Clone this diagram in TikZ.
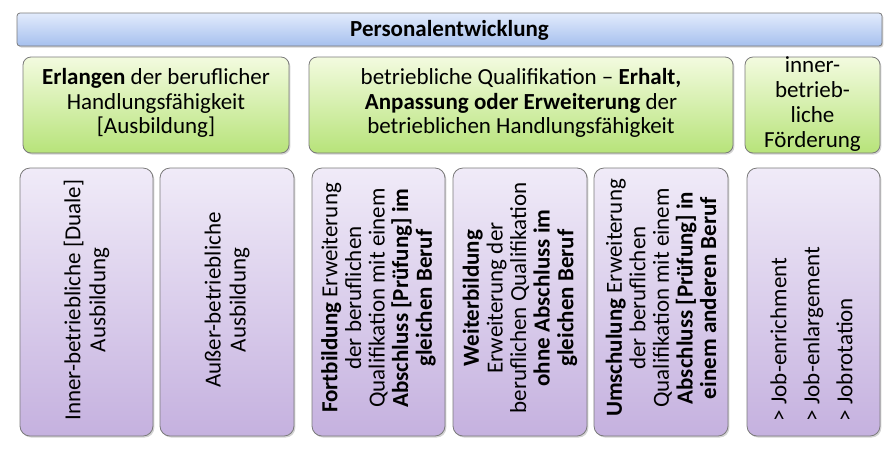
\documentclass[tikz,border=0pt]{standalone}
\usepackage{fontspec}
\setmainfont{Carlito}
\usetikzlibrary{shadows}
\definecolor{blueTop}{HTML}{E2EBFC}
\definecolor{blueBot}{HTML}{A6C0EE}
\definecolor{greenTop}{HTML}{F3FBDF}
\definecolor{greenBot}{HTML}{B7E37A}
\definecolor{purpleTop}{HTML}{F0EBF8}
\definecolor{purpleBot}{HTML}{C5B1DF}
\definecolor{edgeGray}{HTML}{7A7A7A}
\begin{document}
\begin{tikzpicture}[x=1pt,y=-1pt,
  every node/.style={inner sep=0pt, outer sep=0pt},
  shade/.style={drop shadow={shadow xshift=1.4pt, shadow yshift=-1.6pt, opacity=0.35}},
  barbox/.style={draw=edgeGray, line width=0.8pt, rounded corners=3pt, top color=blueTop, bottom color=blueBot, shade, anchor=north west},
  greenbox/.style={draw=edgeGray, line width=0.8pt, rounded corners=8pt, top color=greenTop, bottom color=greenBot, shade, anchor=north west},
  purplebox/.style={draw=edgeGray, line width=0.8pt, rounded corners=10pt, top color=purpleTop, bottom color=purpleBot, shade, anchor=north west},
  gtext/.style={align=center, font=\fontsize{23}{24.6}\selectfont},
  vtext/.style={rotate=90, align=center, font=\fontsize{23}{23.6}\selectfont},
  ltext/.style={rotate=90, align=left, font=\fontsize{23}{24}\selectfont, text width=246pt}
]
\useasboundingbox (0,0) rectangle (893,451);

% top bar
\node[barbox, minimum width=865pt, minimum height=33pt] (bar) at (17,13) {};
\node[font=\fontsize{23}{24}\selectfont\bfseries] (bartext) at ([yshift=-1pt]bar.center) {Personalentwicklung};

% green boxes
\node[greenbox, minimum width=266pt, minimum height=96pt] (g1) at (23,57) {};
\node[gtext] (g1t) at ([yshift=2pt]g1.center) {\textbf{Erlangen} der beruflicher\\Handlungsfähigkeit\\{[Ausbildung]}};

\node[greenbox, minimum width=424pt, minimum height=96pt] (g2) at (309,57) {};
\node[gtext] (g2t) at ([yshift=2pt]g2.center) {betriebliche Qualifikation – \textbf{Erhalt,}\\\textbf{Anpassung oder Erweiterung} der\\betrieblichen Handlungsfähigkeit};

\node[greenbox, minimum width=135pt, minimum height=96pt] (g3) at (745,57) {};
\node[gtext, font=\fontsize{23}{24.8}\selectfont] (g3t) at ([yshift=1pt]g3.center) {inner-\\betrieb-\\liche\\Förderung};

% purple boxes
\node[purplebox, minimum width=133pt, minimum height=268pt] (p1) at (20,168) {};
\node[vtext, font=\fontsize{23}{25}\selectfont] (p1t) at ([yshift=2pt]p1.center) {Inner-betriebliche [Duale]\\Ausbildung};

\node[purplebox, minimum width=134pt, minimum height=268pt] (p2) at (160,168) {};
\node[vtext, font=\fontsize{23}{25}\selectfont] (p2t) at ([yshift=2pt]p2.center) {Außer-betriebliche\\Ausbildung};

\node[purplebox, minimum width=133pt, minimum height=268pt] (p3) at (312,168) {};
\node[vtext] (p3t) at ([yshift=4pt]p3.center) {\textbf{Fortbildung} Erweiterung\\der beruflichen\\Qualifikation mit einem\\\textbf{Abschluss [Prüfung] im}\\\textbf{gleichen Beruf}};

\node[purplebox, minimum width=134pt, minimum height=268pt] (p4) at (453,168) {};
\node[vtext] (p4t) at ([yshift=4pt]p4.center) {\textbf{Weiterbildung}\\Erweiterung der\\beruflichen Qualifikation\\\textbf{ohne Abschluss im}\\\textbf{gleichen Beruf}};

\node[purplebox, minimum width=134pt, minimum height=268pt] (p5) at (594,168) {};
\node[vtext] (p5t) at ([yshift=4pt]p5.center) {\textbf{Umschulung} Erweiterung\\der beruflichen\\Qualifikation mit einem\\\textbf{Abschluss [Prüfung] in}\\\textbf{einem anderen Beruf}};

\node[purplebox, minimum width=133pt, minimum height=268pt] (p6) at (747,168) {};
\node[ltext] (p6t) at ([xshift=-2pt, yshift=4pt]p6.center) {>\hspace{0.22em}Job-enrichment\\[9pt]>\hspace{0.22em}Job-enlargement\\[9pt]>\hspace{0.22em}Jobrotation};
\end{tikzpicture}
\end{document}
